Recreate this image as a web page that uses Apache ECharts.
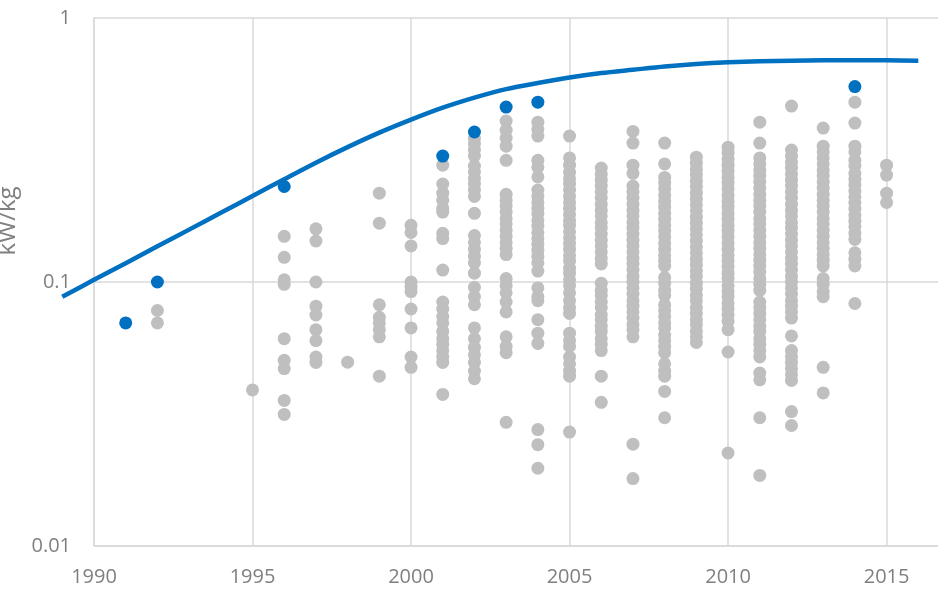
<!DOCTYPE html>
<html>
<head>
<meta charset="utf-8">
<title>kW/kg</title>
<script src="https://cdn.jsdelivr.net/npm/echarts@6/dist/echarts.min.js"></script>
<style>
  html, body { margin: 0; padding: 0; background: #ffffff; }
  #chart { width: 938px; height: 589px; }
</style>
</head>
<body>
<div id="chart"></div>
<script>
// Power density (kW/kg) by year: individual machines (grey),
// the yearly record holders (blue) and the fitted envelope curve.

const xTicks = [1990, 1995, 2000, 2005, 2010, 2015];
const yTicks = [0.01, 0.1, 1];

const grayYears = [1992, 1995, 1996, 1997, 1998, 1999, 2000, 2001, 2002, 2003, 2004,
  2005, 2006, 2007, 2008, 2009, 2010, 2011, 2012, 2013, 2014, 2015];

const grayValues = [
  [0.078, 0.07],
  [0.039],
  [0.149, 0.124, 0.102, 0.098, 0.061, 0.0505, 0.047, 0.0356, 0.0315],
  [0.159, 0.143, 0.1, 0.081, 0.075, 0.066, 0.06, 0.052, 0.0496],
  [0.0497],
  [0.217, 0.167, 0.082, 0.0735, 0.07, 0.066, 0.062, 0.044],
  [0.164, 0.154, 0.137, 0.1, 0.096, 0.092, 0.079, 0.067, 0.052, 0.0475],
  [0.277, 0.235, 0.217, 0.204, 0.19, 0.184, 0.153, 0.146, 0.111, 0.084, 0.079, 0.074,
   0.07, 0.065, 0.061, 0.058, 0.055, 0.052, 0.0496, 0.0375],
  [0.35, 0.333, 0.316, 0.3, 0.275, 0.261, 0.247, 0.235, 0.223, 0.211, 0.182, 0.15, 0.141,
   0.133, 0.125, 0.118, 0.108, 0.0955, 0.088, 0.082, 0.067, 0.061, 0.0565, 0.053, 0.0496,
   0.046, 0.043],
  [0.407, 0.376, 0.351, 0.327, 0.289, 0.215, 0.204, 0.194, 0.184, 0.174, 0.166, 0.157,
   0.149, 0.141, 0.134, 0.127, 0.103, 0.097, 0.091, 0.084, 0.077, 0.062, 0.057, 0.054,
   0.0294],
  [0.403, 0.379, 0.357, 0.289, 0.272, 0.25, 0.223, 0.211, 0.2, 0.19, 0.181, 0.171, 0.163,
   0.154, 0.146, 0.139, 0.132, 0.125, 0.118, 0.11, 0.095, 0.088, 0.085, 0.072, 0.064,
   0.0585, 0.0276, 0.0242, 0.0197],
  [0.357, 0.295, 0.277, 0.26, 0.246, 0.235, 0.223, 0.211, 0.2, 0.19, 0.18, 0.171, 0.164,
   0.155, 0.147, 0.14, 0.133, 0.126, 0.12, 0.113, 0.108, 0.102, 0.097, 0.091, 0.085, 0.08,
   0.076, 0.064, 0.06, 0.057, 0.052, 0.049, 0.046, 0.044, 0.027],
  [0.27, 0.256, 0.243, 0.231, 0.219, 0.208, 0.197, 0.187, 0.178, 0.168, 0.16, 0.152, 0.144,
   0.137, 0.13, 0.123, 0.117, 0.099, 0.093, 0.089, 0.084, 0.08, 0.075, 0.072, 0.068, 0.065,
   0.061, 0.058, 0.055, 0.044, 0.035],
  [0.372, 0.336, 0.277, 0.258, 0.231, 0.219, 0.208, 0.197, 0.187, 0.178, 0.168, 0.16,
   0.152, 0.144, 0.137, 0.13, 0.123, 0.117, 0.111, 0.105, 0.1, 0.095, 0.09, 0.085, 0.081,
   0.077, 0.073, 0.069, 0.066, 0.062, 0.0243, 0.018],
  [0.336, 0.28, 0.249, 0.237, 0.225, 0.213, 0.202, 0.192, 0.182, 0.173, 0.164, 0.156,
   0.148, 0.14, 0.133, 0.126, 0.12, 0.115, 0.104, 0.099, 0.093, 0.089, 0.082, 0.078, 0.074,
   0.07, 0.067, 0.063, 0.06, 0.057, 0.054, 0.049, 0.046, 0.044, 0.0385, 0.0306],
  [0.297, 0.282, 0.267, 0.254, 0.241, 0.229, 0.217, 0.206, 0.196, 0.186, 0.176, 0.167,
   0.159, 0.151, 0.143, 0.136, 0.129, 0.122, 0.116, 0.11, 0.105, 0.099, 0.094, 0.089,
   0.085, 0.08, 0.076, 0.072, 0.069, 0.065, 0.062, 0.059],
  [0.324, 0.308, 0.292, 0.277, 0.263, 0.249, 0.237, 0.225, 0.213, 0.202, 0.192, 0.182,
   0.173, 0.164, 0.156, 0.148, 0.14, 0.133, 0.126, 0.12, 0.114, 0.108, 0.103, 0.097,
   0.092, 0.088, 0.083, 0.079, 0.075, 0.071, 0.066, 0.0543, 0.0225],
  [0.403, 0.336, 0.295, 0.28, 0.265, 0.252, 0.239, 0.227, 0.215, 0.204, 0.194, 0.184,
   0.174, 0.166, 0.157, 0.149, 0.141, 0.134, 0.127, 0.121, 0.115, 0.109, 0.103, 0.098,
   0.093, 0.084, 0.08, 0.076, 0.072, 0.068, 0.065, 0.061, 0.058, 0.055, 0.052, 0.0452,
   0.0426, 0.0306, 0.0185],
  [0.464, 0.316, 0.3, 0.284, 0.27, 0.256, 0.243, 0.231, 0.219, 0.208, 0.197, 0.187, 0.178,
   0.168, 0.16, 0.152, 0.144, 0.137, 0.13, 0.123, 0.117, 0.111, 0.105, 0.1, 0.095, 0.09,
   0.085, 0.081, 0.077, 0.073, 0.0625, 0.055, 0.052, 0.0496, 0.047, 0.0446, 0.0424,
   0.0323, 0.0286],
  [0.383, 0.327, 0.311, 0.295, 0.28, 0.265, 0.252, 0.239, 0.227, 0.215, 0.204, 0.194,
   0.184, 0.174, 0.166, 0.157, 0.149, 0.141, 0.134, 0.127, 0.121, 0.115, 0.103, 0.098,
   0.092, 0.088, 0.0475, 0.038],
  [0.48, 0.4, 0.327, 0.311, 0.289, 0.275, 0.258, 0.245, 0.233, 0.221, 0.21, 0.199, 0.189,
   0.179, 0.17, 0.162, 0.153, 0.145, 0.129, 0.122, 0.115, 0.0829],
  [0.277, 0.254, 0.217, 0.2]
];

const recordYears = [1991, 1992, 1996, 2001, 2002, 2003, 2004, 2014];
const recordValues = [0.07, 0.1, 0.23, 0.30, 0.37, 0.46, 0.48, 0.55];

const curveYears = [1989, 1990, 1991, 1992, 1993, 1994, 1995, 1996, 1997, 1998, 1999,
  2000, 2001, 2002, 2003, 2004, 2005, 2006, 2007, 2008, 2009, 2010, 2011, 2012, 2013,
  2014, 2015, 2016];
const curveValues = [0.0879, 0.1019, 0.1178, 0.1366, 0.1579, 0.1828, 0.2117, 0.2451,
  0.2831, 0.3242, 0.3679, 0.4122, 0.4576, 0.4995, 0.538, 0.567, 0.5948, 0.6186, 0.6366,
  0.6547, 0.669, 0.6793, 0.6859, 0.6894, 0.6911, 0.6917, 0.6911, 0.6895];

const FONT = "'Open Sans', 'Liberation Sans', sans-serif";
const TEXT = '#808080';
const RULE = '#d9d9d9';

// plot frame in pixels; the envelope runs one year past the left edge
const PLOT_LEFT = 94;
const PLOT_RIGHT = -12;
const X_MIN = 1990;
const X_MAX = 2017;
const CURVE_X_MIN = 1989;
const yearWidth = (938 - PLOT_LEFT - PLOT_RIGHT) / (X_MAX - X_MIN);

const grayPoints = [];
grayYears.forEach(function (yr, i) {
  grayValues[i].forEach(function (v) { grayPoints.push([yr, v]); });
});
const recordPoints = recordYears.map(function (yr, i) { return [yr, recordValues[i]]; });
const curvePoints = curveYears.map(function (yr, i) { return [yr, curveValues[i]]; });

const chart = echarts.init(document.getElementById('chart'), null, { renderer: 'canvas' });

const hiddenAxis = {
  show: false,
  axisLine: { show: false },
  axisTick: { show: false },
  axisLabel: { show: false },
  splitLine: { show: false }
};

chart.setOption({
  animation: false,
  backgroundColor: '#ffffff',
  grid: [
    {
      left: PLOT_LEFT, right: PLOT_RIGHT, top: 18, bottom: 43,
      containLabel: false,
      outerBoundsMode: 'none'
    },
    {
      // same scale as the main frame, widened so the curve may start at 1989
      left: PLOT_LEFT - (X_MIN - CURVE_X_MIN) * yearWidth, right: PLOT_RIGHT, top: 18, bottom: 43,
      containLabel: false,
      outerBoundsMode: 'none'
    }
  ],
  xAxis: [
    {
      type: 'value',
      gridIndex: 0,
      min: X_MIN,
      max: X_MAX,
      interval: 5,
      axisLine: { show: true, lineStyle: { color: RULE, width: 1.5 } },
      axisTick: { show: false },
      splitLine: { show: true, lineStyle: { color: RULE, width: 1.5 } },
      axisLabel: {
        margin: 21,
        color: TEXT,
        fontFamily: FONT,
        fontSize: 20,
        formatter: function (v) { return xTicks.indexOf(v) >= 0 ? String(v) : ''; }
      }
    },
    Object.assign({ type: 'value', gridIndex: 1, min: CURVE_X_MIN, max: X_MAX }, hiddenAxis)
  ],
  yAxis: [
    {
      type: 'log',
      gridIndex: 0,
      logBase: 10,
      min: yTicks[0],
      max: yTicks[yTicks.length - 1],
      name: 'kW/kg',
      nameLocation: 'middle',
      nameRotate: 90,
      nameGap: 62,
      nameTextStyle: {
        color: TEXT,
        fontFamily: FONT,
        fontSize: 24,
        padding: [0, 0, 0, 122]
      },
      axisLine: { show: true, lineStyle: { color: RULE, width: 1.5 } },
      axisTick: { show: false },
      splitLine: { show: true, lineStyle: { color: RULE, width: 1.5 } },
      axisLabel: {
        margin: 23,
        color: TEXT,
        fontFamily: FONT,
        fontSize: 20,
        formatter: function (v) { return String(v); }
      }
    },
    Object.assign({ type: 'log', gridIndex: 1, logBase: 10,
      min: yTicks[0], max: yTicks[yTicks.length - 1] }, hiddenAxis)
  ],
  series: [
    {
      name: 'machines',
      type: 'scatter',
      xAxisIndex: 0,
      yAxisIndex: 0,
      data: grayPoints,
      symbol: 'circle',
      symbolSize: 13,
      itemStyle: { color: '#bfbfbf', opacity: 1 },
      emphasis: { disabled: true },
      z: 2
    },
    {
      name: 'envelope',
      type: 'line',
      xAxisIndex: 1,
      yAxisIndex: 1,
      data: curvePoints,
      smooth: 0.3,
      showSymbol: false,
      lineStyle: { color: '#0070c0', width: 4.5, cap: 'butt', join: 'round' },
      emphasis: { disabled: true },
      z: 3
    },
    {
      name: 'records',
      type: 'scatter',
      xAxisIndex: 0,
      yAxisIndex: 0,
      data: recordPoints,
      symbol: 'circle',
      symbolSize: 13,
      itemStyle: { color: '#0070c0', opacity: 1 },
      emphasis: { disabled: true },
      z: 4
    }
  ]
});
</script>
</body>
</html>
